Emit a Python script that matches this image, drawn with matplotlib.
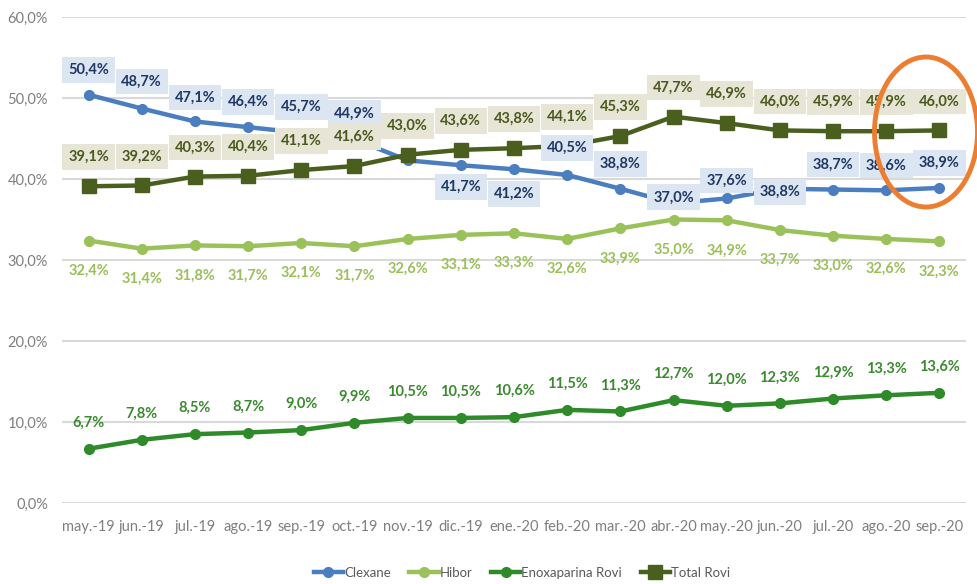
import matplotlib
matplotlib.use("Agg")
import matplotlib.pyplot as plt
from matplotlib.patches import Ellipse
from matplotlib.ticker import FuncFormatter

months = ["may.-19", "jun.-19", "jul.-19", "ago.-19", "sep.-19", "oct.-19", "nov.-19",
          "dic.-19", "ene.-20", "feb.-20", "mar.-20", "abr.-20", "may.-20", "jun.-20",
          "jul.-20", "ago.-20", "sep.-20"]

clexane = [50.4, 48.7, 47.1, 46.4, 45.7, 44.9, 42.3, 41.7, 41.2, 40.5, 38.8, 37.0, 37.6,
           38.8, 38.7, 38.6, 38.9]
hibor = [32.4, 31.4, 31.8, 31.7, 32.1, 31.7, 32.6, 33.1, 33.3, 32.6, 33.9, 35.0, 34.9,
         33.7, 33.0, 32.6, 32.3]
enoxa = [6.7, 7.8, 8.5, 8.7, 9.0, 9.9, 10.5, 10.5, 10.6, 11.5, 11.3, 12.7, 12.0, 12.3,
         12.9, 13.3, 13.6]
total = [39.1, 39.2, 40.3, 40.4, 41.1, 41.6, 43.0, 43.6, 43.8, 44.1, 45.3, 47.7, 46.9,
         46.0, 45.9, 45.9, 46.0]

# label offsets in pixels (positive = above the point), None = label hidden in original
clex_dy = [25, 27, 24, 25, 26, 26, None, -22, -25, 27, 25, 6, 18, -3, 25, 25, 25]

C_CLEX = "#4a7ebf"
C_HIBOR = "#9bc25a"
C_ENOXA = "#2f8a2a"
C_TOTAL = "#4a5f1e"

LABEL_FONT = ["Lato", "DejaVu Sans"]


def pct(v):
    return f"{v:.1f}".replace(".", ",") + "%"


fig = plt.figure(figsize=(9.78, 5.84), dpi=100)
ax = fig.add_axes([62 / 978, 1 - 503 / 584, (966 - 62) / 978, (503 - 17) / 584])

x = list(range(len(months)))

ax.plot(x, hibor, color=C_HIBOR, lw=3.2, marker="o", ms=7, label="Hibor", zorder=3)
ax.plot(x, enoxa, color=C_ENOXA, lw=3.2, marker="o", ms=7, label="Enoxaparina Rovi", zorder=3)
ax.plot(x, clexane, color=C_CLEX, lw=3.2, marker="o", ms=7, label="Clexane", zorder=3)
ax.plot(x, total, color=C_TOTAL, lw=3.2, marker="s", ms=10, label="Total Rovi", zorder=4)

for i in x:
    if clex_dy[i] is not None:
        ax.annotate(pct(clexane[i]), (i, clexane[i]), xytext=(0, clex_dy[i]),
                    textcoords="offset pixels", ha="center", va="center",
                    fontsize=10.5, fontweight="bold", family=LABEL_FONT, color="#1f3864",
                    bbox=dict(boxstyle="square,pad=0.4", fc="#dce6f2", ec="none"), zorder=5)
    ax.annotate(pct(total[i]), (i, total[i]), xytext=(0, 29),
                textcoords="offset pixels", ha="center", va="center",
                fontsize=10.5, fontweight="bold", family=LABEL_FONT, color="#4a5a1e",
                bbox=dict(boxstyle="square,pad=0.4", fc="#e7e5d6", ec="none"), zorder=6)
    ax.annotate(pct(hibor[i]), (i, hibor[i]), xytext=(0, -30),
                textcoords="offset pixels", ha="center", va="center",
                fontsize=10.5, fontweight="bold", family=LABEL_FONT, color="#9bbf5a", zorder=5)
    ax.annotate(pct(enoxa[i]), (i, enoxa[i]), xytext=(0, 26),
                textcoords="offset pixels", ha="center", va="center",
                fontsize=10.5, fontweight="bold", family=LABEL_FONT, color="#3a8a2e", zorder=5)

ax.set_xlim(-0.5, len(months) - 0.5)
ax.set_ylim(0, 60)
ax.set_yticks([0, 10, 20, 30, 40, 50, 60])
ax.yaxis.set_major_formatter(FuncFormatter(lambda v, p: pct(v)))
ax.set_xticks(x)
ax.set_xticklabels(months)
ax.tick_params(axis="both", length=0, colors="#7f7f7f", labelsize=10.5)
ax.tick_params(axis="x", pad=12)
ax.tick_params(axis="y", pad=10)
for lab in ax.get_xticklabels() + ax.get_yticklabels():
    lab.set_family(LABEL_FONT)
ax.grid(axis="y", color="#d9d9d9", lw=1.5)
ax.set_axisbelow(True)
for s in ax.spines.values():
    s.set_visible(False)

handles, labels = ax.get_legend_handles_labels()
order = [2, 0, 1, 3]
leg = fig.legend([handles[k] for k in order], [labels[k] for k in order],
                 loc="center", bbox_to_anchor=(522 / 978, 1 - 573 / 584), ncol=4,
                 frameon=False, handlelength=2.2, columnspacing=1.4, handletextpad=0.1,
                 prop={"family": LABEL_FONT, "size": 9.5})
for t in leg.get_texts():
    t.set_color("#595959")

# orange highlight circle
fig.patches.append(Ellipse((926 / 978, 1 - 132 / 584), 103 / 978, 150 / 584,
                           transform=fig.transFigure, fill=False, ec="#ed7d31", lw=3.5))

fig.savefig("out.png", dpi=100)
